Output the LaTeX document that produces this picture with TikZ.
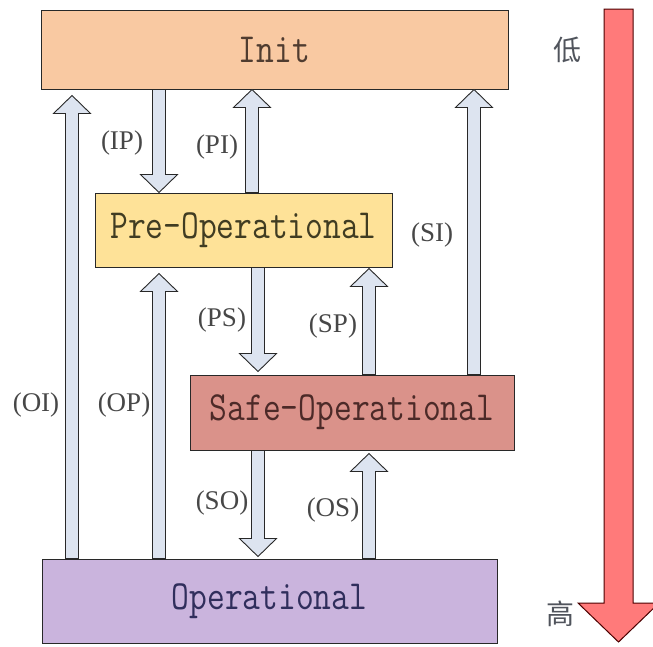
\documentclass[tikz,border=0pt]{standalone}
\usepackage{fontspec}
\setmainfont{Liberation Serif}
\newfontfamily\cjkfont{Noto Sans CJK SC}
\usetikzlibrary{calc}
\definecolor{initc}{RGB}{249,201,162}
\definecolor{prec}{RGB}{254,226,152}
\definecolor{safec}{RGB}{218,146,138}
\definecolor{opc}{RGB}{202,180,221}
\definecolor{arrc}{RGB}{221,228,240}
\definecolor{redc}{RGB}{255,122,122}
\definecolor{linec}{RGB}{40,40,40}
\definecolor{tinit}{RGB}{80,60,48}
\definecolor{tpre}{RGB}{64,60,34}
\definecolor{tsafe}{RGB}{76,42,40}
\definecolor{top}{RGB}{48,46,92}
\definecolor{tcjk}{RGB}{80,84,92}
\newcommand\monotext[1]{\scalebox{1}[1.2]{\ttfamily\fontsize{34.5}{34.5}\selectfont #1}}
\tikzset{
  statebox/.style={draw=linec, line width=1pt, inner sep=0pt, anchor=center},
  blk/.style={draw=linec, fill=arrc, line width=0.9pt, line join=miter},
  lbl/.style={font=\fontsize{27}{27}\selectfont, text=black!72, inner sep=0pt},
  cjklbl/.style={font=\cjkfont\fontsize{28}{28}\selectfont, text=tcjk, inner sep=0pt}
}
% up arrow: #1 gap, #2 x-coordinate name, #3 lower node, #4 upper node
\newcommand\arrup[4][2]{%
  \coordinate (s) at (#3.north -| #2);
  \coordinate (e) at ($(#4.south -| #2)+(0,#1)$);
  \filldraw[blk] ($(s)+(-6.5,0)$) -- ($(e)+(-6.5,18)$) -- ($(e)+(-18.5,18)$) -- (e)
     -- ($(e)+(18.5,18)$) -- ($(e)+(6.5,18)$) -- ($(s)+(6.5,0)$) -- cycle;}
% down arrow: #1 gap, #2 x-coordinate name, #3 upper node, #4 lower node
\newcommand\arrdown[4][2]{%
  \coordinate (s) at (#3.south -| #2);
  \coordinate (e) at ($(#4.north -| #2)+(0,-#1)$);
  \filldraw[blk] ($(s)+(-6.5,0)$) -- ($(e)+(-6.5,-18)$) -- ($(e)+(-18.5,-18)$) -- (e)
     -- ($(e)+(18.5,-18)$) -- ($(e)+(6.5,-18)$) -- ($(s)+(6.5,0)$) -- cycle;}
\begin{document}
\begin{tikzpicture}[x=1pt,y=-1pt]
\useasboundingbox (0,0) rectangle (653,646);
% states
\node[statebox, fill=initc, minimum width=467pt, minimum height=79pt, text=tinit] (init) at (274.5,49.5) {\monotext{Init}};
\node[statebox, fill=prec, minimum width=297pt, minimum height=74pt, text=tpre] (pre) at (243.5,230) {\monotext{Pre-Operational}};
\node[statebox, fill=safec, minimum width=324pt, minimum height=75pt, text=tsafe] (safe) at (352,412.5) {\monotext{Safe-Operational}};
\node[statebox, fill=opc, minimum width=455pt, minimum height=84pt, text=top] (op) at (269.5,601) {\monotext{Operational}};
% x positions of transitions
\coordinate (xOI) at (72,0);
\coordinate (xIP) at (159,0);
\coordinate (xPI) at (252,0);
\coordinate (xSI) at (474,0);
\coordinate (xOP) at (159,0);
\coordinate (xPS) at (258,0);
\coordinate (xSP) at (369,0);
\coordinate (xSO) at (258,0);
\coordinate (xOS) at (369,0);
% transitions
\arrup[6]{xOI}{op}{init}
\arrdown[0]{xIP}{init}{pre}
\arrup[0]{xPI}{pre}{init}
\arrup[0]{xSI}{safe}{init}
\arrup[6]{xOP}{op}{pre}
\arrdown[3]{xPS}{pre}{safe}
\arrup[1]{xSP}{safe}{pre}
\arrdown[2]{xSO}{safe}{op}
\arrup[3]{xOS}{op}{safe}
% labels
\node[lbl] (lIP) at (122,143) {(IP)};
\node[lbl] (lPI) at (217,147) {(PI)};
\node[lbl] (lSI) at (432,235) {(SI)};
\node[lbl] (lPS) at (222,320) {(PS)};
\node[lbl] (lSP) at (333,326) {(SP)};
\node[lbl] (lOI) at (36,405) {(OI)};
\node[lbl] (lOP) at (124,405) {(OP)};
\node[lbl] (lSO) at (222,503) {(SO)};
\node[lbl] (lOS) at (333,510) {(OS)};
% priority arrow
\filldraw[draw=black!70!red, fill=redc, line width=1pt, line join=miter]
  (604,9) -- (633,9) -- (633,603) -- (659,603) -- (618.5,642) -- (578,603) -- (604,603) -- cycle;
\node[cjklbl] (low) at (567,50) {低};
\node[cjklbl] (high) at (560,614) {高};
\end{tikzpicture}
\end{document}
